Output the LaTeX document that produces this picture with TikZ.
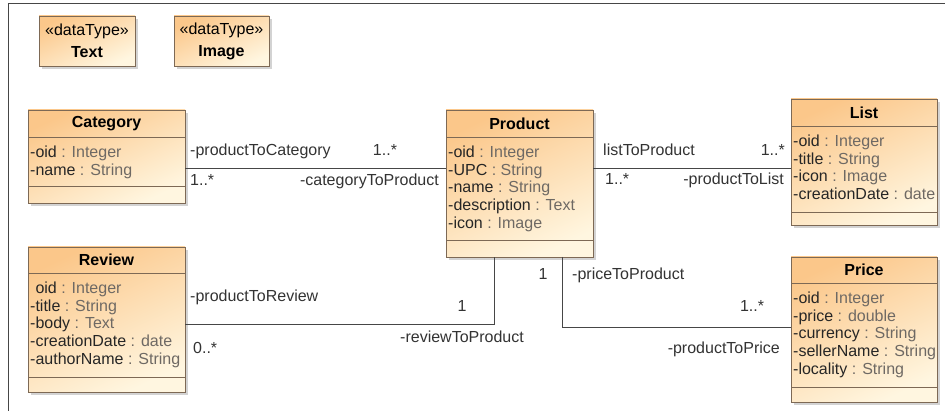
\documentclass[tikz,border=0pt]{standalone}
\usepackage{fontspec}
\setmainfont{Liberation Sans}
\usetikzlibrary{calc,positioning,shadows}

\definecolor{boxtop}{RGB}{251,199,138}
\definecolor{boxbottom}{RGB}{255,246,224}
\definecolor{boxline}{RGB}{125,105,85}
\definecolor{typegray}{RGB}{110,105,100}
\definecolor{linegray}{RGB}{70,70,70}
\newcommand{\attr}[2]{#1 \textcolor{typegray}{: #2}}

\tikzset{
  umlbox/.style={draw=boxline, line width=0.9pt, top color=boxtop, bottom color=boxbottom,
    shading angle=25, anchor=north west, inner sep=0pt, outer sep=0pt,
    drop shadow={shadow xshift=3pt, shadow yshift=-3pt, opacity=0.35}},
  compline/.style={draw=boxline, line width=0.9pt},
  title/.style={font=\fontsize{16}{18}\selectfont\bfseries, inner sep=0pt, minimum height=27pt},
  attrs/.style={font=\fontsize{16}{17.8}\selectfont, align=left, inner sep=0pt, anchor=north west, text=black!85},
  lbl/.style={font=\fontsize{16}{18}\selectfont, inner sep=0pt, text height=11.5pt, text depth=3.5pt, text=black!80},
  assoc/.style={draw=linegray, line width=1pt}
}

\begin{document}
\begin{tikzpicture}[x=1pt,y=-1pt]
\useasboundingbox (0,0) rectangle (945,411);
\draw[linegray] (8,411) -- (8,3) -- (945,3);

\node[umlbox, minimum width=96pt, minimum height=50pt, align=center, font=\fontsize{16}{22}\selectfont] (text) at (39,16) {«dataType»\\\textbf{Text}};
\node[umlbox, minimum width=95pt, minimum height=50pt, align=center, font=\fontsize{16}{22}\selectfont] (image) at (174,16) {«dataType»\\\textbf{Image}};

\node[umlbox, minimum width=157pt, minimum height=93pt] (category) at (28,110) {};
\node[title, below=0pt of category.north] (categoryTitle) {Category};
\draw[compline] (category.west |- 0,137) -- (category.east |- 0,137);
\draw[compline] (category.west |- 0,186) -- (category.east |- 0,186);
\node[attrs] (categoryAttrs) at (30,145.5) {\attr{-oid}{Integer}\\\attr{-name}{String}};

\node[umlbox, minimum width=147pt, minimum height=147pt] (product) at (446,110) {};
\node[title, below=0pt of product.north] (productTitle) {Product};
\draw[compline] (product.west |- 0,137) -- (product.east |- 0,137);
\draw[compline] (product.west |- 0,240) -- (product.east |- 0,240);
\node[attrs] (productAttrs) at (448,145.5) {\attr{-oid}{Integer}\\\attr{-UPC}{String}\\\attr{-name}{String}\\\attr{-description}{Text}\\\attr{-icon}{Image}};

\node[umlbox, minimum width=146pt, minimum height=126pt] (list) at (791,99) {};
\node[title, below=0pt of list.north] (listTitle) {List};
\draw[compline] (list.west |- 0,126) -- (list.east |- 0,126);
\draw[compline] (list.west |- 0,212) -- (list.east |- 0,212);
\node[attrs] (listAttrs) at (793,134.5) {\attr{-oid}{Integer}\\\attr{-title}{String}\\\attr{-icon}{Image}\\\attr{-creationDate}{date}};

\node[umlbox, minimum width=157pt, minimum height=145pt] (review) at (28,247) {};
\node[title, below=0pt of review.north, minimum height=26pt] (reviewTitle) {Review};
\draw[compline] (review.west |- 0,273) -- (review.east |- 0,273);
\draw[compline] (review.west |- 0,377) -- (review.east |- 0,377);
\node[attrs] (reviewAttrs) at (30,281.5) {\phantom{-}\attr{oid}{Integer}\\\attr{-title}{String}\\\attr{-body}{Text}\\\attr{-creationDate}{date}\\\attr{-authorName}{String}};

\node[umlbox, minimum width=146pt, minimum height=145pt] (price) at (791,257) {};
\node[title, below=0pt of price.north, minimum height=26pt] (priceTitle) {Price};
\draw[compline] (price.west |- 0,283) -- (price.east |- 0,283);
\draw[compline] (price.west |- 0,387) -- (price.east |- 0,387);
\node[attrs] (priceAttrs) at (793,291.5) {\attr{-oid}{Integer}\\\attr{-price}{double}\\\attr{-currency}{String}\\\attr{-sellerName}{String}\\\attr{-locality}{String}};

\draw[assoc] (category.east |- 0,169) -- (product.west |- 0,169);
\draw[assoc] (product.east |- 0,169) -- (list.west |- 0,169);
\draw[assoc] (review.east |- 0,325) -| (product.south -| 494,0);
\draw[assoc] (product.south -| 562,0) |- (price.west |- 0,328);

\node[lbl, anchor=west] (catEnd) at (190,152) {-productToCategory};
\node[lbl] (catMultTop) at (385,152) {1..*};
\node[lbl, anchor=west] (catMult) at (190,182) {1..*};
\node[lbl, anchor=east] (prodEndCat) at (439,182) {-categoryToProduct};
\node[lbl, anchor=west] (listEnd) at (603,152) {listToProduct};
\node[lbl, anchor=east] (listMultTop) at (785,152) {1..*};
\node[lbl, anchor=west] (listMult) at (605,181) {1..*};
\node[lbl, anchor=east] (prodEndList) at (784,181) {-productToList};
\node[lbl, anchor=west] (reviewEnd) at (190,298) {-productToReview};
\node[lbl] (reviewOne) at (462,308) {1};
\node[lbl, anchor=east] (prodEndReview) at (524,339) {-reviewToProduct};
\node[lbl, anchor=west] (reviewMult) at (193,350) {0..*};
\node[lbl] (priceOne) at (543,276) {1};
\node[lbl, anchor=west] (priceEnd) at (572,276) {-priceToProduct};
\node[lbl] (priceMult) at (752,308) {1..*};
\node[lbl, anchor=east] (prodEndPrice) at (780,350) {-productToPrice};
\end{tikzpicture}
\end{document}
